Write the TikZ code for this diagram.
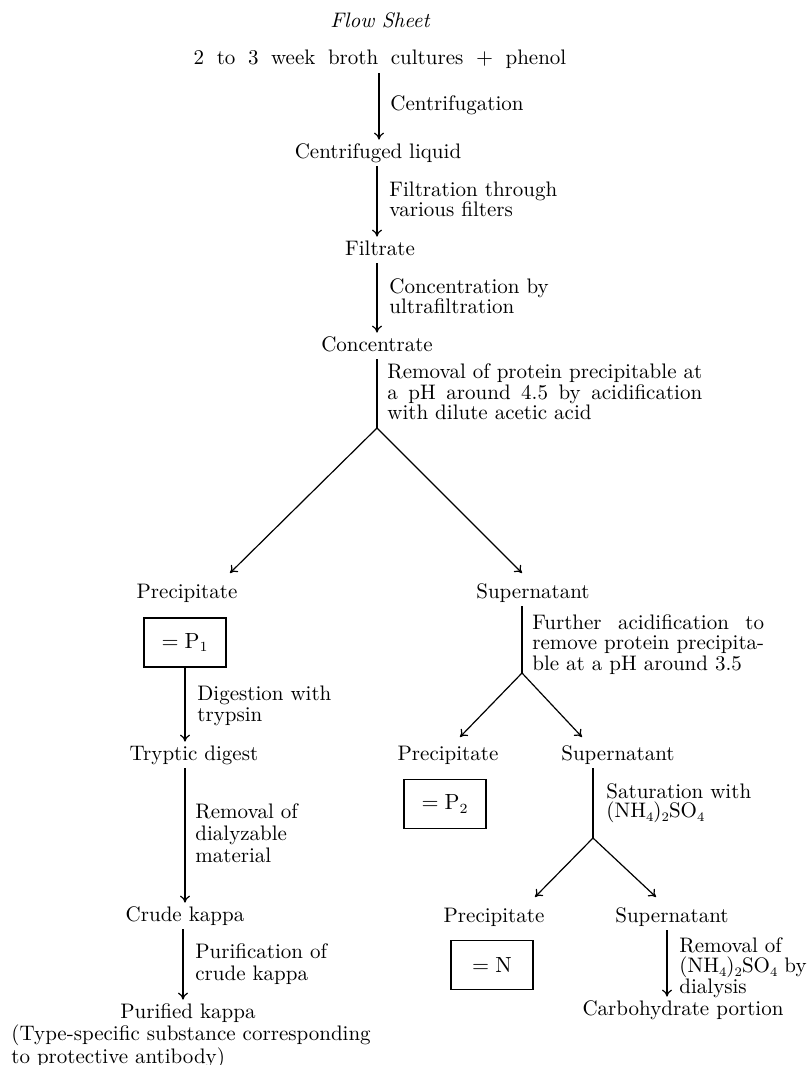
\documentclass[tikz,border=0pt]{standalone}
\usetikzlibrary{arrows.meta}
\newlength\wA
\newlength\wB
\newcommand\ssub[1]{\raisebox{-0.45ex}{\fontsize{6.5}{6.5}\selectfont #1}}
\begin{document}
\fontsize{10.5}{10.5}\selectfont
\settowidth\wA{Removal of protein precipitable at}
\settowidth\wB{remove protein precipita-}
\begin{tikzpicture}[x=0.5pt,y=-0.5pt,
  txt/.style={inner sep=2pt, text height=7pt, text depth=2pt, font=\fontsize{10.5}{10.5}\selectfont},
  lab/.style={inner sep=0pt, align=left, anchor=north west, font=\fontsize{10.5}{#1}\selectfont},
  lab/.default=10,
  box/.style={draw, line width=0.6pt, minimum width=41pt, minimum height=24.5pt, inner sep=0pt, font=\fontsize{10.5}{10.5}\selectfont},
  arr/.style={line width=0.6pt, -{To[length=3.5pt,width=5pt]}},
  ln/.style={line width=0.6pt}]
\useasboundingbox (0,0) rectangle (809,1065);

% main column
\node[txt, font=\fontsize{10.5}{10.5}\selectfont\itshape] (title) at (380,23) {Flow Sheet};
\node[txt] (cult) at (380,60) {2\hspace{6.3pt}to\hspace{6.3pt}3\hspace{6.3pt}week\hspace{6.3pt}broth\hspace{6.3pt}cultures\hspace{6.3pt}$+$\hspace{6.3pt}phenol};
\node[txt] (cent) at (378,153) {Centrifuged liquid};
\node[txt] (filt) at (380,250) {Filtrate};
\node[txt] (conc) at (377,346) {Concentrate};

\node[lab] (l1) at (390,95) {Centrifugation};
\node[lab] (l2) at (389,182) {Filtration through\\various filters};
\node[lab] (l3) at (389,278) {Concentration by\\ultrafiltration};
\node[lab=9] (l4) at (387,363) {Removal of protein precipitable at\\\makebox[\wA][s]{a\hfill pH\hfill around\hfill 4.5\hfill by\hfill acidification}\\with dilute acetic acid};

\draw[arr] (cult.south -| 379,0) -- (cent.north -| 379,0);
\draw[arr] (cent.south -| 377,0) -- (filt.north -| 377,0);
\draw[arr] (filt.south -| 377,0) -- (conc.north -| 377,0);
\coordinate (a1) at (377,428);
\draw[ln] (conc.south -| a1) -- (a1);

% left branch
\node[txt] (prec1) at (187,593) {Precipitate};
\node[txt] (sup1) at (533,593) {Supernatant};
\coordinate (t1l) at (230,573);
\coordinate (t1r) at (522,573);
\draw[arr] (a1) -- (t1l);
\draw[arr] (a1) -- (t1r);

\node[box] (p1) at (185,642.5) {$=\mathrm{P}_1$};
\node[txt] (tryp) at (194,755) {Tryptic digest};
\node[txt] (crude) at (185,916) {Crude kappa};
\node[txt] (puri) at (188,1013) {Purified kappa};
\node[inner sep=0pt, align=left, anchor=north west, font=\fontsize{10.5}{9}\selectfont] (note) at (11,1024) {(Type-specific substance corresponding\\to protective antibody)};

\node[lab=10.5] (l5) at (197,686) {Digestion with\\trypsin};
\node[lab=11] (l6) at (195,803) {Removal of\\dialyzable\\material};
\node[lab=11] (l7) at (195,943) {Purification of\\crude kappa};

\draw[arr] (p1.south) -- (tryp.north -| p1.south);
\draw[arr] (tryp.south -| p1.south) -- (crude.north -| p1.south);
\draw[arr] (crude.south -| 183,0) -- (puri.north -| 183,0);

% right branch
\coordinate (a2) at (522,673);
\draw[ln] (sup1.south -| a2) -- (a2);
\node[lab=10.25] (l8) at (532,614) {\makebox[\wB][s]{Further\hfill acidification\hfill to}\\remove protein precipita-\\ble at a pH around 3.5};

\node[txt] (prec2) at (448,755) {Precipitate};
\node[txt] (sup2) at (618,755) {Supernatant};
\coordinate (t2l) at (460,737);
\coordinate (t2r) at (582,737);
\draw[arr] (a2) -- (t2l);
\draw[arr] (a2) -- (t2r);
\node[box] (p2) at (445,804) {$=\mathrm{P}_2$};

\coordinate (a3) at (593,838);
\draw[ln] (sup2.south -| a3) -- (a3);
\node[lab=9.5] (l9) at (606,783) {Saturation with\\(NH\ssub{4})\ssub{2}SO\ssub{4}};

\node[txt] (prec3) at (494,917) {Precipitate};
\node[txt] (sup3) at (672,917) {Supernatant};
\coordinate (t3l) at (535,897);
\coordinate (t3r) at (656,897);
\draw[arr] (a3) -- (t3l);
\draw[arr] (a3) -- (t3r);
\node[box] (pn) at (492,965) {$=\mathrm{N}$};

\node[txt] (carb) at (683,1010) {Carbohydrate portion};
\draw[arr] (sup3.south -| 667,0) -- (carb.north -| 667,0);
\node[lab=10.25] (l10) at (679,937) {Removal of\\(NH\ssub{4})\ssub{2}SO\ssub{4} by\\dialysis};
\end{tikzpicture}
\end{document}
